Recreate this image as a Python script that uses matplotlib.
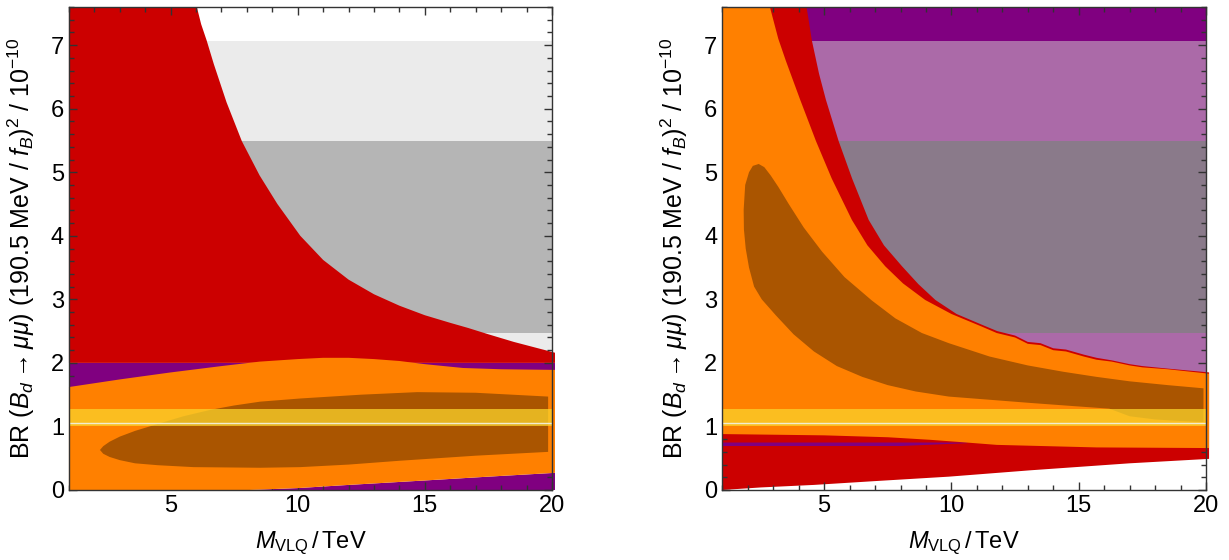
import numpy as np
import matplotlib
matplotlib.use('Agg')
import matplotlib.pyplot as plt
from matplotlib.ticker import MultipleLocator

plt.rcParams['font.family'] = ['Liberation Sans', 'DejaVu Sans']
plt.rcParams['mathtext.fontset'] = 'custom'
plt.rcParams['mathtext.rm'] = 'Liberation Sans'
plt.rcParams['mathtext.it'] = 'Liberation Sans:italic'

# experimental bands (1 sigma / 2 sigma) and SM band
band2 = [0.9, 7.07]
band1 = [2.47, 5.49]
sm_band = [1.0, 1.276]
sm_line = 1.05

# ---- left panel ----
L_red_top_x = [1, 6.03, 6.2, 6.42, 6.7, 7.2, 7.8, 8.5, 9.2, 10.1, 11.0, 12.0, 13.0, 14.0, 15.0,
               16.0, 16.7, 17.5, 18.5, 20.12]
L_red_top_y = [7.6, 7.6, 7.33, 7.07, 6.7, 6.1, 5.49, 4.95, 4.5, 4.0, 3.62, 3.31, 3.08, 2.90, 2.75,
               2.63, 2.55, 2.45, 2.33, 2.16]
L_red_bot = 2.0

L_org_top_x = [1, 3, 5, 7, 8.5, 10, 11, 12, 13, 14, 15, 16.5, 18, 20.12]
L_org_top_y = [1.62, 1.74, 1.85, 1.95, 2.02, 2.06, 2.08, 2.08, 2.06, 2.03, 1.98, 1.92, 1.90, 1.89]
L_pur_top_x = [1, 8.1, 10, 12, 15, 17.5, 20.12]
L_pur_top_y = [0, 0, 0.03, 0.08, 0.15, 0.21, 0.27]

L_brn_top_x = [2.22, 2.35, 2.6, 3.0, 3.6, 4.58, 5.5, 6.55, 7.5, 8.52, 10.1, 12.5, 14.7, 17, 19.85]
L_brn_top_y = [0.63, 0.69, 0.76, 0.84, 0.93, 1.05, 1.16, 1.26, 1.33, 1.39, 1.44, 1.50, 1.54, 1.53, 1.47]
L_brn_bot_x = [2.22, 2.35, 2.6, 3.0, 3.6, 4.5, 5.9, 8.52, 10.1, 12, 14, 17, 19.85]
L_brn_bot_y = [0.63, 0.57, 0.52, 0.47, 0.42, 0.39, 0.36, 0.35, 0.36, 0.40, 0.46, 0.54, 0.60]

# ---- right panel ----
R_red_top_x = [1, 4.31, 4.52, 4.8, 5.07, 5.57, 6.1, 6.75, 7.35, 8.06, 8.7, 9.37, 10.2, 11.2,
               11.8, 12.5, 13.0, 13.5, 14.0, 14.5, 15.2, 15.7, 16.3, 17.0, 17.5, 18.5, 20.12]
R_red_top_y = [7.6, 7.6, 7.07, 6.55, 6.14, 5.49, 4.9, 4.25, 3.85, 3.52, 3.24, 2.99, 2.77, 2.60,
               2.50, 2.43, 2.33, 2.31, 2.23, 2.21, 2.13, 2.08, 2.04, 1.98, 1.95, 1.91, 1.85]
R_red_bot_x = [1, 2.5, 4.6, 7, 9.9, 13.1, 17, 20.12]
R_red_bot_y = [0, 0.04, 0.08, 0.14, 0.21, 0.31, 0.42, 0.49]

R_org_top_x = [1, 2.87, 3.2, 3.5, 4.06, 4.68, 5.3, 6.09, 6.7, 7.4, 8.1, 8.97, 10.0, 11.2, 11.78,
               12.5, 13.0, 13.5, 14.0, 14.5, 15.2, 15.7, 16.3, 17.0, 17.5, 18.5, 20.12]
R_org_top_y = [7.6, 7.6, 7.1, 6.75, 6.14, 5.49, 4.9, 4.25, 3.85, 3.52, 3.25, 2.99, 2.77, 2.57, 2.47,
               2.40, 2.30, 2.28, 2.20, 2.18, 2.10, 2.05, 2.02, 1.96, 1.93, 1.90, 1.83]
R_org_bot_x = [1, 5, 7.5, 9.16, 10.5, 11.78, 15.7, 20.12]
R_org_bot_y = [0.88, 0.86, 0.83, 0.79, 0.75, 0.71, 0.67, 0.66]

R_pur_x = [1, 8, 10.6]
R_pur_top = [0.755, 0.755, 0.755]
R_pur_bot = [0.70, 0.70, 0.745]

R_brn_top_x = [1.84, 1.9, 2.05, 2.2, 2.43, 2.65, 2.9, 3.2, 3.61, 4.2, 4.92, 5.8, 6.88, 7.8, 8.84,
               9.9, 11.5, 13.0, 14.4, 15.7, 17.0, 18.5, 19.9]
R_brn_top_y = [4.41, 4.8, 5.0, 5.1, 5.13, 5.08, 4.95, 4.77, 4.5, 4.13, 3.75, 3.35, 2.98, 2.7, 2.47,
               2.31, 2.10, 1.96, 1.86, 1.78, 1.71, 1.65, 1.60]
R_brn_bot_x = [1.84, 1.85, 1.92, 2.05, 2.25, 2.55, 3.1, 3.8, 4.6, 5.5, 6.5, 7.5, 8.6, 9.9, 11.5,
               13.1, 14.8, 16.2, 16.6, 17.0, 18.0, 19.0, 19.9]
R_brn_bot_y = [4.41, 4.1, 3.8, 3.5, 3.2, 3.0, 2.75, 2.45, 2.18, 1.95, 1.78, 1.65, 1.55, 1.47, 1.42,
               1.37, 1.32, 1.28, 1.22, 1.16, 1.11, 1.085, 1.07]

red = '#cc0000'
orange = '#ff8000'
brown = '#aa5500'
purple = '#800080'
yellow = (250/255, 212/255, 43/255)


def poly(ax, xt, yt, xb, yb, color, z):
    xs = list(xt) + list(xb)[::-1]
    ys = list(yt) + list(yb)[::-1]
    ax.fill(xs, ys, color=color, lw=0, zorder=z, clip_on=False)


def style(ax):
    ax.set_xlim(1, 20)
    ax.set_ylim(0, 7.6)
    ax.xaxis.set_major_locator(MultipleLocator(5))
    ax.xaxis.set_minor_locator(MultipleLocator(1))
    ax.yaxis.set_major_locator(MultipleLocator(1))
    ax.yaxis.set_minor_locator(MultipleLocator(0.2))
    ax.tick_params(which='both', direction='in', top=True, right=True, labelsize=17,
                   color='#333333', width=1)
    ax.tick_params(which='major', length=6)
    ax.tick_params(which='minor', length=3.5)
    for s in ax.spines.values():
        s.set_color('#333333')
        s.set_linewidth(1)
        s.set_zorder(10)
    ax.set_xlabel(r'$M_{\mathrm{VLQ}}\,/\,\mathrm{TeV}$', fontsize=17)
    ax.set_ylabel(r'BR $(B_d \rightarrow \mu\mu)$ (190.5 MeV / $f_B$)$^2$ / 10$^{-10}$',
                  fontsize=18)
    ax.xaxis.set_label_coords(0.5, -0.083)
    ax.yaxis.set_label_coords(-0.066, 0.5)
    # SM band on top
    ax.axhspan(sm_band[0], sm_band[1], color=yellow, alpha=0.75, lw=0, zorder=6)
    ax.axhline(sm_line, color='#f2ecd0', lw=1, zorder=7)


fig = plt.figure(figsize=(12.29, 5.6), dpi=100)
axL = fig.add_axes([0.0561, 0.125, 0.393, 0.8625])
axR = fig.add_axes([0.5877, 0.125, 0.3936, 0.8625])

# left
axL.axhspan(band2[0], band2[1], color='#ebebeb', lw=0, zorder=0)
axL.axhspan(band1[0], band1[1], color='#b5b5b5', lw=0, zorder=0.5)
poly(axL, L_red_top_x, L_red_top_y, [1, 20.12], [L_red_bot, L_red_bot], red, 1)
poly(axL, [1, 20.12], [L_red_bot, L_red_bot], [1, 20.12], [1.5, 1.5], purple, 1.5)
poly(axL, L_pur_top_x, L_pur_top_y, [1, 20.12], [0, 0], purple, 1.5)
poly(axL, L_org_top_x, L_org_top_y, L_pur_top_x, L_pur_top_y, orange, 2)
poly(axL, L_brn_top_x, L_brn_top_y, L_brn_bot_x, L_brn_bot_y, brown, 3)
style(axL)

# right
axR.axhspan(band2[1], 7.6, color=purple, lw=0, zorder=0)
axR.axhspan(band2[0], band2[1], color='#ab6aa8', lw=0, zorder=0)
axR.axhspan(band1[0], band1[1], color='#8a7a8a', lw=0, zorder=0.5)
poly(axR, R_red_top_x, R_red_top_y, R_red_bot_x, R_red_bot_y, red, 1)
axR.fill_between(R_pur_x, R_pur_bot, R_pur_top, color=purple, lw=0, zorder=1.5)
poly(axR, R_org_top_x, R_org_top_y, R_org_bot_x, R_org_bot_y, orange, 2)
poly(axR, R_brn_top_x, R_brn_top_y, R_brn_bot_x, R_brn_bot_y, brown, 3)
style(axR)

fig.savefig('out.png', dpi=100)
